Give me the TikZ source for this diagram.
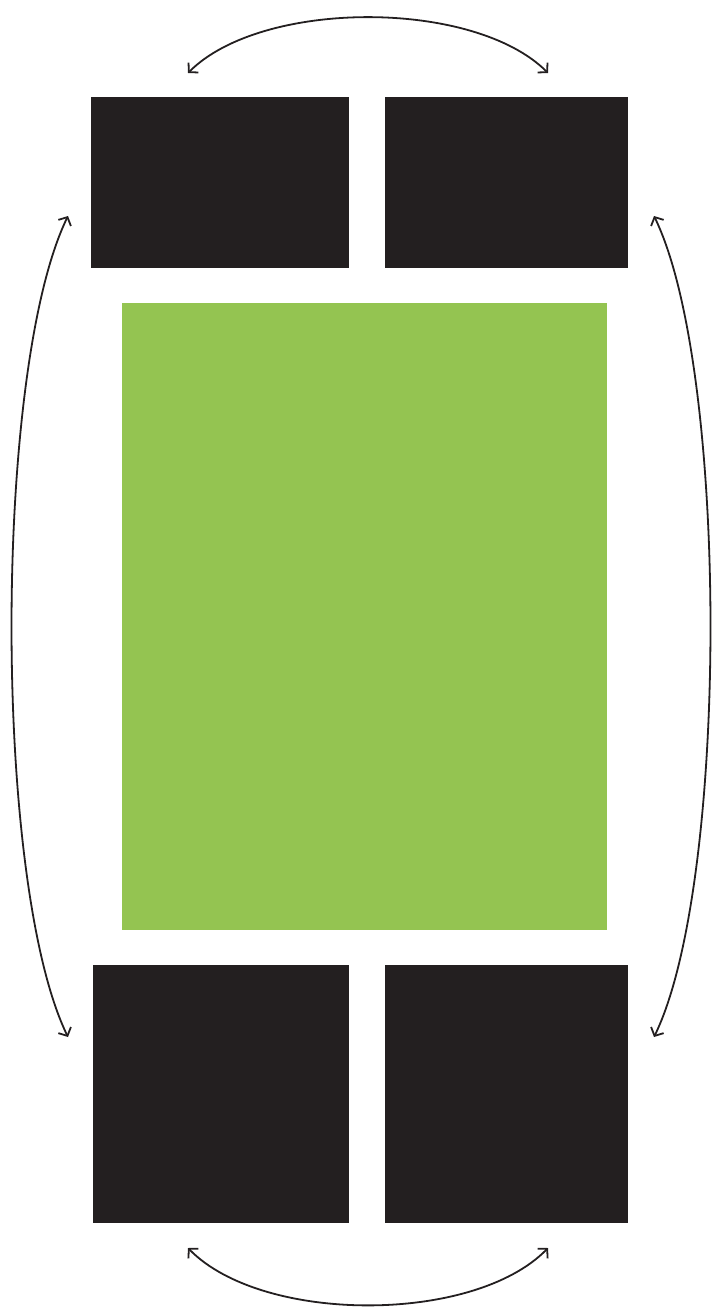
\documentclass[tikz,border=0pt]{standalone}
\usetikzlibrary{arrows.meta}
\definecolor{boxblack}{HTML}{231F20}
\definecolor{boxgreen}{HTML}{94C451}
\tikzset{
  blk/.style={fill=boxblack, draw=none, inner sep=0pt, outer sep=0pt, anchor=north west},
  grn/.style={fill=boxgreen, draw=none, inner sep=0pt, outer sep=0pt, anchor=north west},
  swap arrow/.style={draw=boxblack, line width=1.8pt, {Straight Barb[length=6.5pt,width=14pt]}-{Straight Barb[length=6.5pt,width=14pt]}}
}
\begin{document}
\begin{tikzpicture}[x=1pt,y=-1pt]
\useasboundingbox (0,0) rectangle (720,1314);
\node[blk, minimum width=258pt, minimum height=171pt] (tl) at (91,97) {};
\node[blk, minimum width=243pt, minimum height=171pt] (tr) at (385,97) {};
\node[grn, minimum width=485pt, minimum height=627pt] (mid) at (122,303) {};
\node[blk, minimum width=256pt, minimum height=258pt] (bl) at (93,965) {};
\node[blk, minimum width=243pt, minimum height=258pt] (br) at (385,965) {};
\coordinate (topL) at (188,73);
\coordinate (topR) at (548,73);
\coordinate (botL) at (188,1248);
\coordinate (botR) at (548,1248);
\coordinate (lefT) at (68,216);
\coordinate (lefB) at (68,1037);
\coordinate (rigT) at (654,216);
\coordinate (rigB) at (654,1037);
\draw[swap arrow] (topL) .. controls (262,-1) and (474,-1) .. (topR);
\draw[swap arrow] (botL) .. controls (262,1324) and (474,1324) .. (botR);
\draw[swap arrow] (lefT) .. controls (-7,370) and (-7,883) .. (lefB);
\draw[swap arrow] (rigT) .. controls (729,370) and (729,883) .. (rigB);
\end{tikzpicture}
\end{document}
